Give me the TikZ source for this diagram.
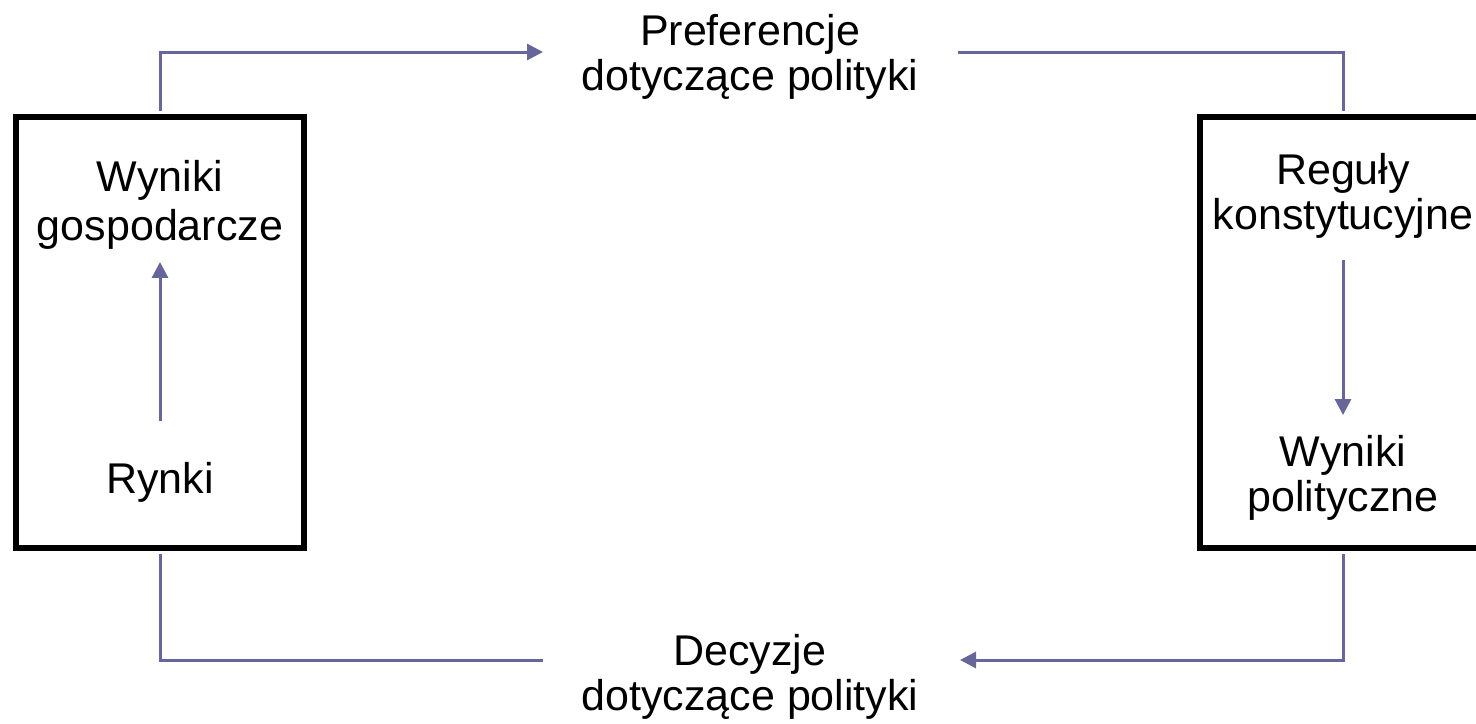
\documentclass[tikz,border=0pt]{standalone}
\usepackage{fontspec}
\setmainfont{Liberation Sans}
\usetikzlibrary{arrows.meta}
\definecolor{flowc}{RGB}{102,102,153}

\begin{document}
\begin{tikzpicture}[x=0.5pt,y=-0.5pt,
  txt/.style={align=center,inner sep=0pt,font=\fontsize{21.5}{22.5}\selectfont},
  panel/.style={draw,line width=3pt,minimum width=144pt,minimum height=215.5pt,inner sep=0pt},
  flow/.style={draw=flowc,line width=1.5pt},
  tip/.style={-{Triangle[length=8pt,width=8pt]}}]
  \clip (0,0) rectangle (1476,723);
  \node[panel] (lbox) at (160,332.5) {};
  \node[panel] (rbox) at (1343.5,332.5) {};
  \node[txt,font=\fontsize{21.5}{24.5}\selectfont] (wg) at (160,205) {Wyniki\\gospodarcze};
  \node[txt] (ry) at (160,482) {Rynki};
  \node[txt] (rk) at (1343,196) {Reguły\\konstytucyjne};
  \node[txt] (wp) at (1343,478) {Wyniki\\polityczne};
  \node[txt] (pref) at (750,57) {Preferencje\\dotyczące polityki};
  \node[txt] (dec) at (750,677) {Decyzje\\dotyczące polityki};
  \coordinate (pin) at (543,52);
  \coordinate (pout) at (958,52);
  \coordinate (din) at (960,660);
  \coordinate (dout) at (543,660);
  % loop round the two boxes
  \draw[flow,tip,shorten <=1.5pt] (lbox.north) |- (pin);
  \draw[flow,shorten >=1.5pt] (pout) -| (rbox.north);
  \draw[flow,tip,shorten <=1.5pt] (rbox.south) |- (din);
  \draw[flow,shorten >=1.5pt] (dout) -| (lbox.south);
  % inside the boxes
  \draw[flow,tip,shorten <=20.5pt,shorten >=6pt] (ry) -- (wg);
  \draw[flow,tip,shorten <=10.5pt,shorten >=10pt] (rk) -- (wp);
\end{tikzpicture}
\end{document}
